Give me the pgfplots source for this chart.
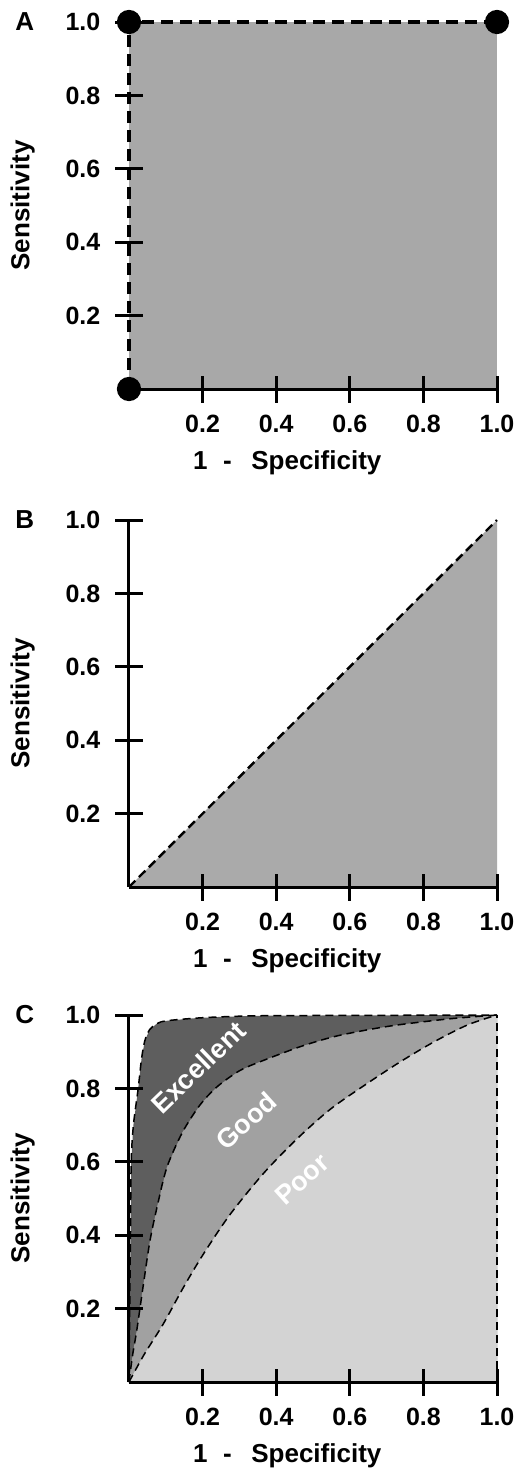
\documentclass[border=0pt]{standalone}
\usepackage{pgfplots}
\pgfplotsset{compat=1.18}
\usepackage{pgfplotstable}
\usepackage{fontspec}
\setmainfont{Liberation Sans}

\definecolor{fillA}{RGB}{168,168,168}
\definecolor{fillB}{RGB}{170,170,170}
\definecolor{darkg}{RGB}{94,94,94}
\definecolor{midg}{RGB}{161,161,161}
\definecolor{lightg}{RGB}{211,211,211}

% panel A: perfect test
\pgfplotstableread{
x y
0 0
0 1
1 1
}\rocA

% panel B: chance line
\pgfplotstableread{
x y
0 0
1 1
}\rocB

% panel C: three example curves
\pgfplotstableread{
x y
0 0
0.002 0.2
0.004 0.4
0.006 0.6
0.012 0.7
0.025 0.8
0.034 0.88
0.043 0.93
0.056 0.96
0.075 0.976
0.1 0.984
0.175 0.991
0.25 0.995
0.36 0.998
0.6 0.999
1 1
}\excellent

\pgfplotstableread{
x y
0 0
0.01 0.075
0.021 0.14
0.039 0.265
0.057 0.385
0.077 0.48
0.103 0.585
0.145 0.68
0.193 0.755
0.24 0.805
0.3 0.848
0.357 0.873
0.466 0.914
0.557 0.941
0.65 0.96
0.738 0.974
0.875 0.99
1 1
}\good

\pgfplotstableread{
x y
0 0
0.04 0.073
0.093 0.158
0.148 0.258
0.203 0.35
0.275 0.457
0.366 0.569
0.457 0.663
0.548 0.744
0.648 0.814
0.738 0.873
0.829 0.927
0.92 0.973
1 1
}\poor

\tikzset{panel/.style={font=\fontsize{26}{30}\selectfont\bfseries}}

\pgfplotsset{
  rocaxis/.style={
    scale only axis, width=368pt, height=367pt,
    xmin=0, xmax=1, ymin=0, ymax=1,
    axis lines=left,
    axis line style={-, line width=3pt},
    axis on top,
    clip=false,
    xtick={0.2,0.4,0.6,0.8,1.0}, xticklabels={0.2,0.4,0.6,0.8,1.0},
    ytick={0.2,0.4,0.6,0.8,1.0}, yticklabels={0.2,0.4,0.6,0.8,1.0},
    tick align=center, major tick length=27pt,
    tick style={black, line width=3pt},
    ticklabel style={font=\fontsize{25}{29}\selectfont\bfseries, inner sep=0pt},
    xticklabel style={anchor=north, yshift=-12pt},
    yticklabel style={anchor=east, xshift=-15pt},
    label style={font=\fontsize{26}{30}\selectfont\bfseries},
    xlabel={1\hspace{0.6em}-\hspace{0.75em}Specificity},
    ylabel={Sensitivity},
    xlabel style={at={(axis description cs:0.43,-0.2)}, anchor=center},
    ylabel style={at={(axis description cs:-0.289,0.5)}, anchor=center},
  },
}

\begin{document}
\begin{tikzpicture}
\useasboundingbox (0,0) rectangle (518pt,-1473pt);

% A
\begin{axis}[rocaxis, at={(129pt,-389pt)}, anchor=south west,
    y axis line style={draw=none}]
\addplot[draw=none, fill=fillA] table {\rocA} \closedcycle;
\addplot[black, line width=3.2pt, dash pattern=on 12pt off 7pt,
    mark=*, mark size=10.5pt, mark options={solid}] table {\rocA};
\node[panel] at (axis description cs:-0.283,1) {A};
\end{axis}

% B
\begin{axis}[rocaxis, at={(129pt,-887pt)}, anchor=south west]
\addplot[draw=none, fill=fillB] table {\rocB} \closedcycle;
\addplot[black, line width=2.4pt, dash pattern=on 9pt off 5pt] table {\rocB};
\node[panel] at (axis description cs:-0.283,1) {B};
\end{axis}

% C
\begin{axis}[rocaxis, at={(129pt,-1382pt)}, anchor=south west]
\addplot[draw=none, fill=darkg] table {\excellent} \closedcycle;
\addplot[draw=none, fill=midg] table {\good} \closedcycle;
\addplot[draw=none, fill=lightg] table {\poor} \closedcycle;
\addplot[black, line width=1.5pt, dash pattern=on 8pt off 5pt, smooth] table {\excellent};
\addplot[black, line width=1.5pt, dash pattern=on 8pt off 5pt, smooth] table {\good};
\addplot[black, line width=1.5pt, dash pattern=on 8pt off 5pt, smooth] table {\poor};
\addplot[black, line width=1.5pt, dash pattern=on 8pt off 5pt] coordinates {(1,0) (1,1)};
\node[rotate=44, text=white, inner sep=0pt, font=\fontsize{27}{30}\selectfont\bfseries]
    at (axis cs:0.188,0.858) {Excellent};
\node[rotate=42, text=white, inner sep=0pt, font=\fontsize{27}{30}\selectfont\bfseries]
    at (axis cs:0.318,0.711) {Good};
\node[rotate=42, text=white, inner sep=0pt, font=\fontsize{27}{30}\selectfont\bfseries]
    at (axis cs:0.47,0.553) {Poor};
\node[panel] at (axis description cs:-0.283,1) {C};
\end{axis}
\end{tikzpicture}
\end{document}
